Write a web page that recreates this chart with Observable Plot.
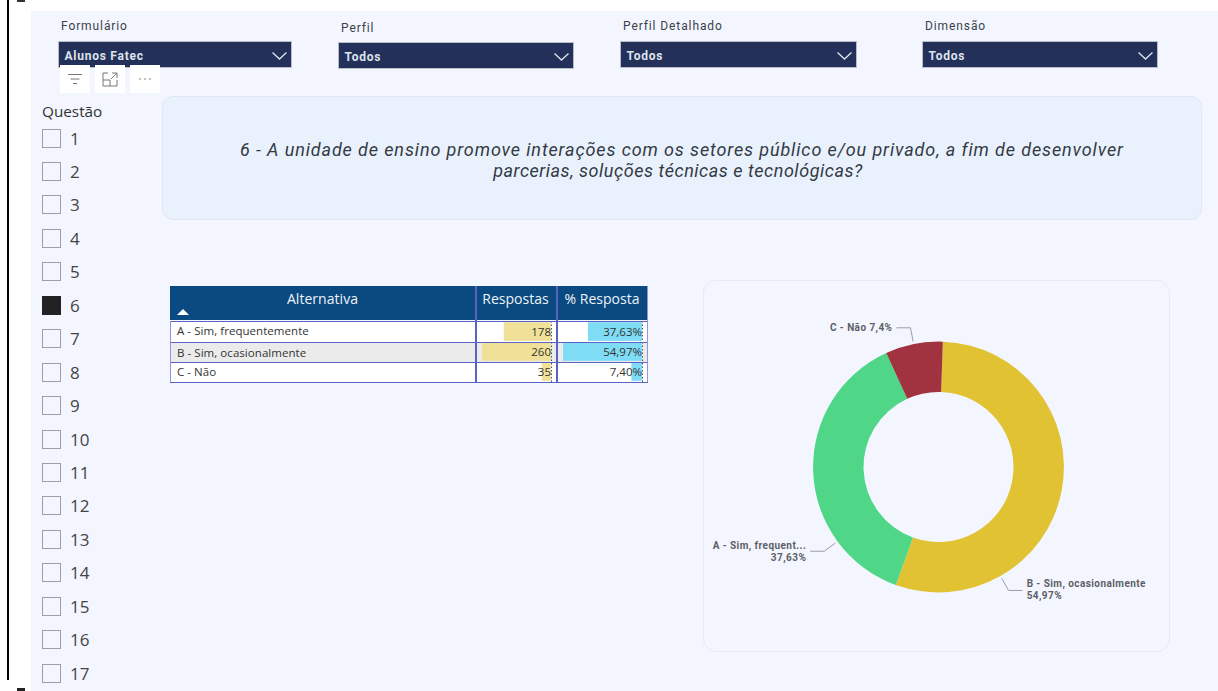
<!DOCTYPE html>
<html lang="pt">
<head>
<meta charset="utf-8">
<script src="https://cdn.jsdelivr.net/npm/d3@7"></script>
<script src="https://cdn.jsdelivr.net/npm/@observablehq/plot@0.6"></script>
<style>
html,body{margin:0;padding:0;background:#fff;width:1218px;height:691px;overflow:hidden}
#page{position:relative;width:1218px;height:691px;overflow:hidden;font-family:"Open Sans",sans-serif}
.abs{position:absolute;box-sizing:border-box}
svg{display:block}
</style>
</head>
<body>
<div id="page"></div>
<script>
// ---- data ----
const filterLabels = ["Formulário", "Perfil", "Perfil Detalhado", "Dimensão"];
const filterValues = ["Alunos Fatec", "Todos", "Todos", "Todos"];
const questions = ["1","2","3","4","5","6","7","8","9","10","11","12","13","14","15","16","17"];
const selectedQuestion = "6";
const questionLines = [
  "6 - A unidade de ensino promove interações com os setores público e/ou privado, a fim de desenvolver",
  "parcerias, soluções técnicas e tecnológicas?"
];
const alternatives = ["A - Sim, frequentemente", "B - Sim, ocasionalmente", "C - Não"];
const answers = [178, 260, 35];
const shares = [37.63, 54.97, 7.40];
const shareText = ["37,63%", "54,97%", "7,40%"];
const sliceColors = ["#4fd687", "#e0c232", "#a0333f"];
const sliceOrder = ["B - Sim, ocasionalmente", "A - Sim, frequentemente", "C - Não"];
const calloutLines = [["A - Sim, frequent...", "37,63%"], ["B - Sim, ocasionalmente", "54,97%"], ["C - Não 7,4%"]];
const tableHeaders = ["Alternativa", "Respostas", "% Resposta"];

const rows = alternatives.map((alt, i) => ({alt, answers: answers[i], share: shares[i], text: shareText[i], lines: calloutLines[i]}));

// ---- page furniture ----
const page = d3.select("#page");
function box(x, y, w, h, css = "", html = "") {
  return page.append("div").attr("class", "abs")
    .attr("style", `left:${x}px;top:${y}px;width:${w}px;height:${h}px;${css}`).html(html);
}
box(31, 11, 1187, 680, "background:#f3f6fe");
box(6.5, 0, 2.5, 680, "background:#000");
box(17, 0, 8, 2, "background:#333");
box(17, 688, 8, 3, "background:#222");

// filters
const filterGeom = [
  {lx: 61, ly: 18, x: 58, y: 41, w: 234},
  {lx: 341, ly: 20, x: 338, y: 42, w: 236},
  {lx: 623, ly: 18, x: 620, y: 41, w: 237},
  {lx: 925, ly: 18, x: 922, y: 41, w: 236}
];
filterLabels.forEach((label, i) => {
  const g = filterGeom[i];
  box(g.lx, g.ly, 140, 16, "font:12px/16px Roboto,sans-serif;letter-spacing:.9px;color:#3a3f4a;white-space:nowrap", label);
  box(g.x, g.y, g.w, 27, "background:#22305a;border:1px solid #b9bdc8");
  box(g.x + 6.5, g.y + 7, 150, 16, "font:bold 12px/16px Roboto,sans-serif;letter-spacing:.75px;color:#dfe3ea;white-space:nowrap", filterValues[i]);
  box(g.x + g.w - 21, g.y + 10, 17, 10, "",
    `<svg width="17" height="10" viewBox="0 0 17 10"><path d="M1.5 1.5 L8.5 8 L15.5 1.5" fill="none" stroke="#dfe3ea" stroke-width="1.3"/></svg>`);
});

// visual header icons
box(60, 65, 30, 28, "background:#fff",
  `<svg width="30" height="28"><path d="M8 9.5H22M10.5 14H19.5M13 18.5H17" stroke="#777" stroke-width="1" fill="none"/></svg>`);
box(95, 65, 30, 28, "background:#fff",
  `<svg width="30" height="28"><path d="M13 8H8V21H22V15M8 15H15V21M17 8H22V13M22 8L16 14" stroke="#777" stroke-width="1" fill="none"/></svg>`);
box(130, 65, 30, 28, "background:#fff",
  `<svg width="30" height="28"><circle cx="10" cy="14" r=".8" fill="#777"/><circle cx="15" cy="14" r=".8" fill="#777"/><circle cx="20" cy="14" r=".8" fill="#777"/></svg>`);

// question slicer
box(42, 100, 90, 22, "font:15.3px/22px 'Open Sans',sans-serif;color:#333", "Questão");
questions.forEach((q, i) => {
  const y = 128.5 + i * 33.45;
  const on = q === selectedQuestion;
  box(42, y, 19, 19, on ? "background:#222;border:1.5px solid #222" : "border:1.5px solid #a09ea2");
  box(70, y - 3, 30, 25, "font:17px/25px 'Open Sans',sans-serif;color:#444", q);
});

// question banner
box(162, 96, 1040, 124, "background:#e9f1fd;border:1px solid #e1e7f2;border-radius:11px");
box(162, 139, 1040, 21, "font:italic 18px/21px Roboto,sans-serif;letter-spacing:.88px;color:#333a44;text-align:center;white-space:nowrap", questionLines[0]);
box(158, 160, 1040, 21, "font:italic 18px/21px Roboto,sans-serif;letter-spacing:.53px;color:#333a44;text-align:center;white-space:nowrap", questionLines[1]);

// ---- table ----
const lineColor = "#5a62c4";
box(170, 286, 478, 34, "background:#0a4a80");
box(170, 342, 478, 20, "background:#ebebeb");
box(170, 321, 478, 21, "background:#fff");
box(170, 362, 478, 20, "background:#fff");
[[170, 475], [475, 556], [556, 648]].forEach(([a, b], i) => {
  box(a, 290, b - a, 18, `font:14px/18px 'Open Sans',sans-serif;letter-spacing:${i ? 0 : 0.05}px;color:#eef3f8;text-align:center;white-space:nowrap`, tableHeaders[i]);
});
box(177, 309, 12, 6, "", `<svg width="12" height="6"><path d="M0 6L6 0L12 6Z" fill="#fff"/></svg>`);
alternatives.forEach((alt, i) => {
  box(177, [322, 344, 363][i], 290, 18, "font:11.5px/18px 'Open Sans',sans-serif;color:#333;white-space:nowrap;letter-spacing:.05px", alt);
});

function cellPlot(field, label, left, width, rangeEnd) {
  const plot = Plot.plot({
    width, height: 61, marginTop: 0, marginBottom: 0, marginLeft: 0, marginRight: 0,
    style: {background: "transparent"},
    x: {axis: null, domain: [0, d3.max(rows, d => d[field])], range: [rangeEnd, 6]},
    y: {axis: null, domain: alternatives, padding: 0.06, round: false},
    marks: [
      Plot.barX(rows, {x: field, y: "alt", fill: field === "answers" ? "#f0e199" : "#7fdcf5", inset: 0}),
      Plot.ruleX([0], {stroke: "#555", strokeDasharray: "1.5,2", strokeWidth: 1}),
      Plot.text(rows, {x: 0, y: "alt", dx: -0.5, text: label, textAnchor: "end", fontSize: 11.5, fontFamily: "Open Sans", fill: "#333"})
    ]
  });
  box(left, 321, width, 61).node().appendChild(plot);
}
cellPlot("answers", d => String(d.answers), 476, 79, 75);
cellPlot("share", d => d.text, 557, 90, 85);

// grid lines
[320.5, 341.5, 361.5, 381.5].forEach(y => box(170, y, 478, 1.5, `background:${lineColor}`));
[475, 556].forEach(x => box(x, 286, 1.5, 97, `background:${lineColor}`));
box(170, 321, 1, 61, "background:#8f96d9");
box(647, 321, 1, 61, "background:#8f96d9");
box(647, 286, 1, 35, "background:#8f96d9");

// ---- donut panel ----
box(703, 280, 467, 372, "border:1px solid #e6eaf3;border-radius:13px");

const R0 = 75, R1 = 125.4;                 // ring radii, px
const calloutAngle = [233.6, 150.4, 348.6]; // where each leader leaves the ring, deg (A, B, C)
const leaderInner = 128, leaderOuter = 142, elbowRun = 14, textGap = 4;

function donutRender(index, scales, values, dim) {
  const cx = dim.width / 2, cy = dim.height / 2;
  const root = d3.create("svg:g").attr("transform", `translate(${cx},${cy})`);
  const arc = d3.arc().innerRadius(R0).outerRadius(R1);
  for (const i of index) {
    root.append("path")
      .attr("d", arc({startAngle: values.x1[i], endAngle: values.x2[i]}))
      .attr("fill", values.fill[i]);
  }
  rows.forEach((row, k) => {
    const a = calloutAngle[k] * Math.PI / 180;
    const sx = Math.sin(a), sy = -Math.cos(a);
    const side = sx >= 0 ? 1 : -1;
    const ex = sx * leaderOuter, ey = sy * leaderOuter;
    root.append("path")
      .attr("d", `M${sx * leaderInner},${sy * leaderInner}L${ex},${ey}H${ex + side * elbowRun}`)
      .attr("fill", "none").attr("stroke", "#9a9ea6").attr("stroke-width", 1);
    const tx = ex + side * (elbowRun + textGap);
    const n = row.lines.length;
    row.lines.forEach((line, j) => {
      root.append("text").text(line)
        .attr("x", tx)
        .attr("y", ey + (j - (n - 1) / 2) * 12.4 + 3.6 - (side > 0 && n > 1 ? 0.8 : 0))
        .attr("text-anchor", side > 0 ? "start" : "end")
        .attr("font-family", "Roboto, sans-serif")
        .attr("font-weight", 700)
        .attr("font-size", 10)
        .attr("letter-spacing", 0.43)
        .attr("fill", "#5c6066");
    });
  });
  return root.node();
}

const donut = Plot.plot({
  width: 467, height: 372, margin: 0,
  style: {background: "transparent"},
  x: {axis: null, domain: [0, 100], range: [2 * Math.PI / 180, 362 * Math.PI / 180]},
  color: {domain: alternatives, range: sliceColors},
  marks: [
    Plot.barX(rows, Plot.stackX({x: "share", z: "alt", fill: "alt", order: sliceOrder, render: donutRender}))
  ]
});
box(705, 281, 467, 372).node().appendChild(donut);
</script>
</body>
</html>
